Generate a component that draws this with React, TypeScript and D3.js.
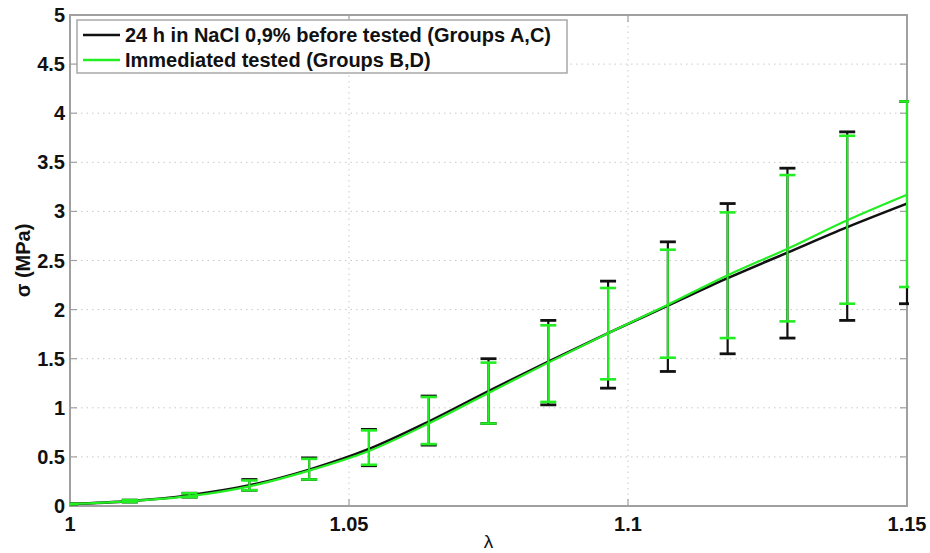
import React from "react";
import * as d3 from "d3";

const lambdaValues = [1, 1.010714, 1.021429, 1.032143, 1.042857, 1.053571, 1.064286, 1.075, 1.085714, 1.096429, 1.107143, 1.117857, 1.128571, 1.139286, 1.15];

const meanSoaked = [0.02, 0.05, 0.11, 0.21, 0.37, 0.58, 0.86, 1.17, 1.47, 1.76, 2.04, 2.32, 2.58, 2.84, 3.08];
const upperSoaked = [0.02, 0.06, 0.13, 0.27, 0.49, 0.78, 1.12, 1.50, 1.89, 2.29, 2.69, 3.08, 3.44, 3.81, 4.12];
const lowerSoaked = [0.02, 0.04, 0.09, 0.16, 0.27, 0.41, 0.62, 0.84, 1.03, 1.20, 1.37, 1.55, 1.71, 1.89, 2.06];

const meanImmediate = [0.02, 0.05, 0.10, 0.20, 0.36, 0.56, 0.84, 1.15, 1.46, 1.76, 2.05, 2.35, 2.62, 2.91, 3.17];
const upperImmediate = [0.02, 0.06, 0.13, 0.26, 0.48, 0.77, 1.11, 1.46, 1.84, 2.22, 2.61, 2.99, 3.37, 3.77, 4.12];
const lowerImmediate = [0.02, 0.04, 0.09, 0.16, 0.27, 0.42, 0.63, 0.84, 1.06, 1.29, 1.51, 1.71, 1.88, 2.06, 2.23];

const xTicks = [1, 1.05, 1.1, 1.15];
const yTicks = [0, 0.5, 1, 1.5, 2, 2.5, 3, 3.5, 4, 4.5, 5];
const legendLabels = ["24 h in NaCl 0,9% before tested (Groups A,C)", "Immediated tested (Groups B,D)"];

const W = 930, H = 553;
const L = 70, R = 907, T = 15, B = 506;
const font = "'Liberation Sans', Arial, Helvetica, sans-serif";
const axisGray = "#a0a0a0";

export default function App() {
  const x = d3.scaleLinear().domain([1, 1.15]).range([L, R]);
  const y = d3.scaleLinear().domain([0, 5]).range([B, T]);
  const line = d3.line<number>().x((_, i) => x(lambdaValues[i])).y((d) => y(d)).curve(d3.curveMonotoneX);

  const series = [
    { mean: meanSoaked, up: upperSoaked, lo: lowerSoaked, color: "#111111", lw: 2.6, ew: 2.2 },
    { mean: meanImmediate, up: upperImmediate, lo: lowerImmediate, color: "#22ee22", lw: 2.2, ew: 2 },
  ];
  const cap = 8;

  return (
    <svg width={W} height={H} style={{ position: "absolute", left: 0, top: 0, background: "#fff" }} fontFamily={font}>
      <defs>
        <clipPath id="plotclip">
          <rect x={L} y={T} width={R - L + 2} height={B - T} />
        </clipPath>
      </defs>
      <rect x={0} y={0} width={W} height={H} fill="#fff" />
      {/* grid */}
      {yTicks.slice(1, -1).map((t) => (
        <line key={"gy" + t} x1={L} x2={R} y1={y(t)} y2={y(t)} stroke="#c8c8c8" strokeWidth={1} strokeDasharray="1.5,4" />
      ))}
      {xTicks.slice(1, -1).map((t) => (
        <line key={"gx" + t} x1={x(t)} x2={x(t)} y1={T} y2={B} stroke="#c8c8c8" strokeWidth={1} strokeDasharray="1.5,4" />
      ))}
      {/* axes box */}
      <rect x={L} y={T} width={R - L} height={B - T} fill="none" stroke={axisGray} strokeWidth={2} />
      {/* ticks */}
      {yTicks.map((t) => (
        <g key={"ty" + t}>
          <line x1={L} x2={L + 7} y1={y(t)} y2={y(t)} stroke={axisGray} strokeWidth={1.2} />
          <line x1={R} x2={R - 7} y1={y(t)} y2={y(t)} stroke={axisGray} strokeWidth={1.2} />
          <text x={L - 5} y={y(t)} dy="0.35em" textAnchor="end" fontSize={20} fontWeight="bold" fill="#111">{t}</text>
        </g>
      ))}
      {xTicks.map((t) => (
        <g key={"tx" + t}>
          <line x1={x(t)} x2={x(t)} y1={B} y2={B - 7} stroke={axisGray} strokeWidth={1.2} />
          <line x1={x(t)} x2={x(t)} y1={T} y2={T + 7} stroke={axisGray} strokeWidth={1.2} />
          <text x={x(t)} y={531} textAnchor="middle" fontSize={20} fontWeight="bold" fill="#111">{t}</text>
        </g>
      ))}
      {/* data */}
      <g clipPath="url(#plotclip)">
        {series.map((s, si) => (
          <g key={"s" + si}>
            <path d={line(s.mean) || ""} fill="none" stroke={s.color} strokeWidth={s.lw} />
            {lambdaValues.map((lv, i) => (
              <g key={i} stroke={s.color} strokeWidth={s.ew}>
                <line x1={x(lv)} x2={x(lv)} y1={y(s.lo[i])} y2={y(s.up[i])} />
                <line x1={x(lv) - cap} x2={x(lv) + cap} y1={y(s.up[i])} y2={y(s.up[i])} strokeWidth={s.ew + 0.6} />
                <line x1={x(lv) - cap} x2={x(lv) + cap} y1={y(s.lo[i])} y2={y(s.lo[i])} strokeWidth={s.ew + 0.6} />
              </g>
            ))}
          </g>
        ))}
      </g>
      {/* legend */}
      <rect x={77} y={20} width={490} height={53} fill="#fff" stroke="#a8a8a8" strokeWidth={1.5} />
      {legendLabels.map((lab, i) => (
        <g key={"lg" + i}>
          <line x1={83} x2={120} y1={35 + i * 25} y2={35 + i * 25} stroke={series[i].color} strokeWidth={2.4} />
          <text x={125} y={35 + i * 25} dy="0.36em" fontSize={20} fontWeight="bold" fill="#111">{lab}</text>
        </g>
      ))}
      {/* axis labels */}
      <text x={(L + R) / 2} y={548} textAnchor="middle" fontSize={19} fill="#111">λ</text>
      <text transform={`translate(30, ${(T + B) / 2}) rotate(-90)`} textAnchor="middle" fontSize={20} fontWeight="bold" fill="#111">σ (MPa)</text>
    </svg>
  );
}
